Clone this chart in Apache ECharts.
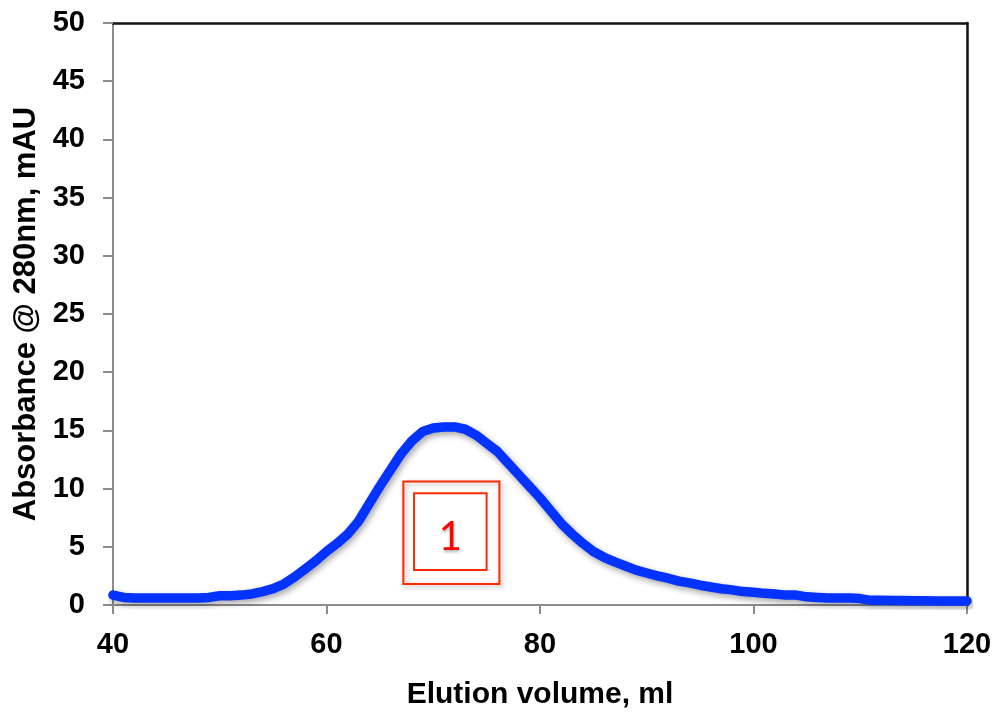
<!DOCTYPE html>
<html>
<head>
<meta charset="utf-8">
<script src="https://cdn.jsdelivr.net/npm/echarts@6/dist/echarts.min.js"></script>
<style>
  html, body { margin: 0; padding: 0; background: #fff; }
  #chart { width: 996px; height: 715px; }
</style>
</head>
<body>
<div id="chart"></div>
<script>
// Elution volume (ml) sampled at 1 ml steps
const volumes = [
  40, 41, 42, 43, 44, 45, 46, 47, 48, 49,
  50, 51, 52, 53, 54, 55, 56, 57, 58, 59,
  60, 61, 62, 63, 64, 65, 66, 67, 68, 69,
  70, 71, 72, 73, 74, 75, 76, 77, 78, 79,
  80, 81, 82, 83, 84, 85, 86, 87, 88, 89,
  90, 91, 92, 93, 94, 95, 96, 97, 98, 99,
  100, 101, 102, 103, 104, 105, 106, 107, 108, 109,
  110, 111, 112, 113, 114, 115, 116, 117, 118, 119, 120
];
// Absorbance at 280 nm (mAU)
const absorbance = [
  0.85, 0.65, 0.6, 0.6, 0.6, 0.6, 0.6, 0.6, 0.6, 0.65,
  0.8, 0.8, 0.85, 0.95, 1.15, 1.4, 1.8, 2.4, 3.1, 3.8,
  4.6, 5.3, 6.1, 7.2, 8.7, 10.2, 11.6, 13.0, 14.1, 14.9,
  15.2, 15.3, 15.3, 15.1, 14.6, 13.9, 13.2, 12.2, 11.2, 10.2,
  9.2, 8.1, 7.0, 6.1, 5.3, 4.6, 4.1, 3.7, 3.35, 3.0,
  2.75, 2.5, 2.3, 2.05, 1.9, 1.7, 1.55, 1.4, 1.3, 1.15,
  1.1, 1.0, 0.95, 0.85, 0.85, 0.7, 0.65, 0.6, 0.6, 0.6,
  0.55, 0.4, 0.4, 0.38, 0.38, 0.36, 0.36, 0.35, 0.35, 0.35, 0.35
];
// Peak annotation boxes: [xFrom, xTo, yFrom, yTo]
const peakLabel = '1';
const outerBox = [67.2, 76.2, 1.8, 10.6];
const innerBox = [68.2, 75.0, 3.0, 9.6];

const chart = echarts.init(document.getElementById('chart'));
const fontFamily = 'Liberation Sans, Arial, sans-serif';
const tickFont = { fontFamily, fontWeight: 'bold', fontSize: 29, color: '#000' };

chart.setOption({
  animation: false,
  grid: { left: 113, right: 29, top: 23, bottom: 108, containLabel: false },
  xAxis: [{
    type: 'value', min: 40, max: 120, interval: 20,
    name: 'Elution volume, ml', nameLocation: 'middle', nameGap: 75,
    nameTextStyle: { fontFamily, fontWeight: 'bold', fontSize: 30, color: '#000' },
    axisLine: { show: true, lineStyle: { color: '#8c8c8c', width: 2 } },
    axisTick: { show: true, length: 9, lineStyle: { color: '#8c8c8c', width: 2 } },
    axisLabel: Object.assign({ margin: 25 }, tickFont),
    splitLine: { show: false }
  }, {
    type: 'value', min: 40, max: 120, position: 'top',
    axisLine: { show: true, onZero: false, lineStyle: { color: '#111', width: 2.5 } },
    axisTick: { show: false }, axisLabel: { show: false }, splitLine: { show: false }
  }],
  yAxis: [{
    type: 'value', min: 0, max: 50, interval: 5,
    name: 'Absorbance @ 280nm, mAU', nameLocation: 'middle', nameGap: 66,
    nameTextStyle: { fontFamily, fontWeight: 'bold', fontSize: 31, color: '#000' },
    axisLine: { show: true, lineStyle: { color: '#8c8c8c', width: 2 } },
    axisTick: { show: true, length: 10, lineStyle: { color: '#8c8c8c', width: 2 } },
    axisLabel: Object.assign({ margin: 28 }, tickFont),
    splitLine: { show: false }
  }, {
    type: 'value', min: 0, max: 50, position: 'right',
    axisLine: { show: true, onZero: false, lineStyle: { color: '#111', width: 2.5 } },
    axisTick: { show: false }, axisLabel: { show: false }, splitLine: { show: false }
  }],
  series: [{
    type: 'line',
    data: volumes.map((v, i) => [v, absorbance[i]]),
    showSymbol: false,
    lineStyle: {
      color: '#0433ff', width: 9.5, cap: 'round', join: 'round',
      shadowColor: 'rgba(0,0,0,0.35)', shadowBlur: 6, shadowOffsetX: 2, shadowOffsetY: 3
    },
    markArea: {
      silent: true,
      data: [
        [{ xAxis: outerBox[0], yAxis: outerBox[2],
           itemStyle: { color: 'rgba(0,0,0,0)', borderColor: '#ff2a00', borderWidth: 2,
                        shadowColor: 'rgba(0,0,0,0.3)', shadowBlur: 5, shadowOffsetX: 2, shadowOffsetY: 2 },
           label: { show: false } },
         { xAxis: outerBox[1], yAxis: outerBox[3] }],
        [{ xAxis: innerBox[0], yAxis: innerBox[2],
           itemStyle: { color: 'rgba(0,0,0,0)', borderColor: '#ff2a00', borderWidth: 2 },
           label: { show: true, position: 'inside', offset: [0, 5], formatter: peakLabel,
                    fontFamily: 'Lato, Open Sans, sans-serif', fontSize: 40, color: '#ff0000',
                    textShadowColor: 'rgba(0,0,0,0.3)', textShadowBlur: 3, textShadowOffsetY: 2 } },
         { xAxis: innerBox[1], yAxis: innerBox[3] }]
      ]
    }
  }]
});
</script>
</body>
</html>
